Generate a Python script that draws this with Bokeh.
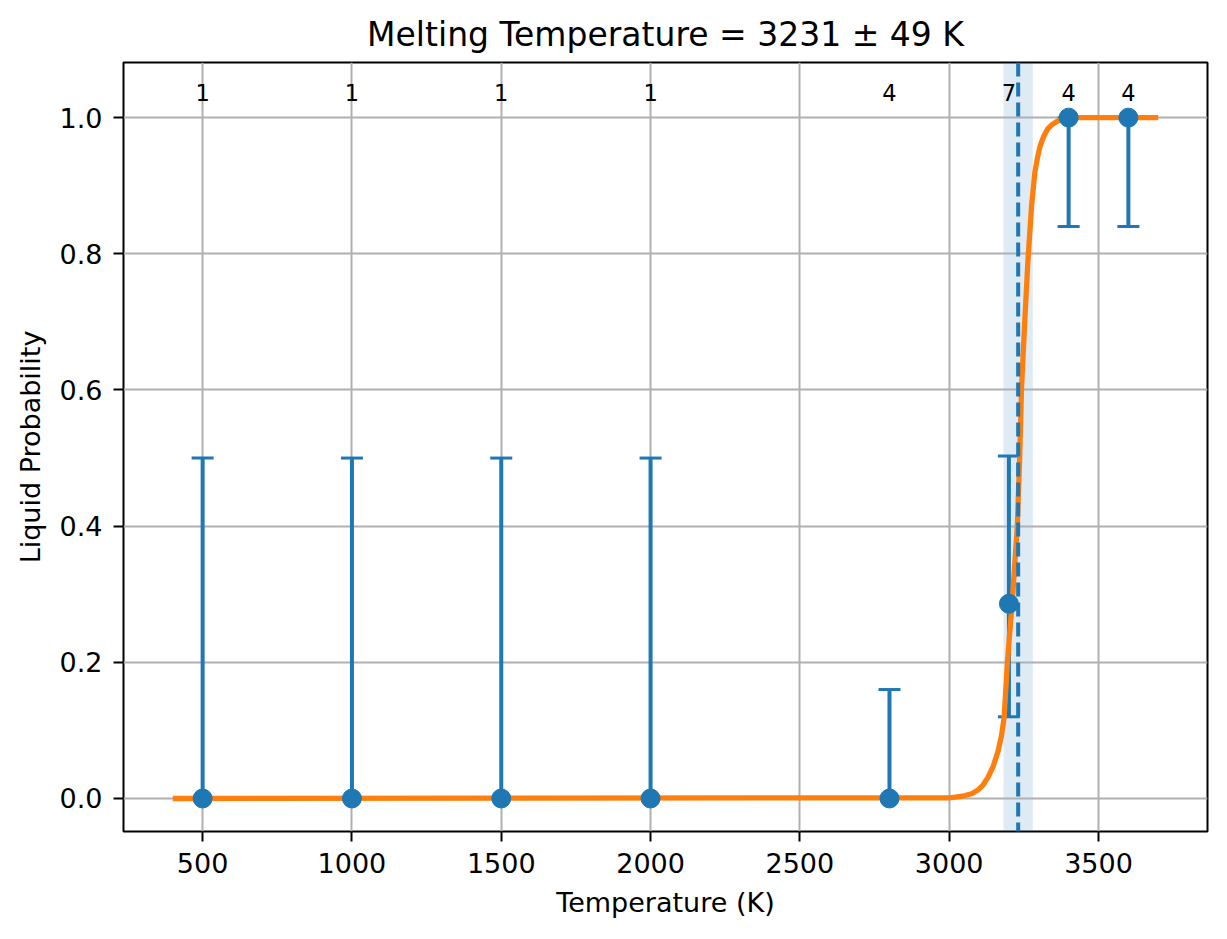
from bokeh.plotting import figure
from bokeh.models import (ColumnDataSource, Whisker, TeeHead, Span, BoxAnnotation,
                          FixedTicker, NumeralTickFormatter, Range1d)
from bokeh.core.properties import value
from bokeh.embed import file_html
from bokeh.resources import INLINE

# ---- data ----
temps = [500, 1000, 1500, 2000, 2800, 3200, 3400, 3600]
counts = [1, 1, 1, 1, 4, 7, 4, 4]
prob = [0.0, 0.0, 0.0, 0.0, 0.0, 0.286, 1.0, 1.0]
err_lo = [0.0, 0.0, 0.0, 0.0, 0.0, 0.12, 0.84, 0.84]
err_hi = [0.5, 0.5, 0.5, 0.5, 0.16, 0.503, 1.0, 1.0]

tm = 3231
tm_err = 49

curve_t = [400, 3000, 3020, 3050, 3075, 3095, 3112, 3130, 3148, 3164, 3175, 3184,
           3195, 3213, 3228, 3236, 3242, 3253, 3264, 3276, 3287, 3296, 3305, 3316,
           3329, 3345, 3363, 3385, 3700]
curve_p = [0.0, 0.001, 0.002, 0.004, 0.007, 0.012, 0.019, 0.031, 0.048, 0.070,
           0.092, 0.119, 0.2, 0.3, 0.4, 0.5, 0.6, 0.7, 0.793, 0.871, 0.920, 0.942,
           0.959, 0.972, 0.983, 0.990, 0.995, 1.0, 1.0]

x_ticks = [500, 1000, 1500, 2000, 2500, 3000, 3500]
y_ticks = [0.0, 0.2, 0.4, 0.6, 0.8, 1.0]

BLUE = "#1f77b4"
ORANGE = "#ff7f0e"
FONT = "DejaVu Sans"

p = figure(frame_width=1084, frame_height=769,
           min_border_left=123, min_border_right=12,
           min_border_top=62, min_border_bottom=92,
           x_range=Range1d(235, 3865), y_range=Range1d(-0.0485, 1.081),
           output_backend="svg", toolbar_location=None,
           title=f"Melting Temperature = {tm} \u00b1 {tm_err} K")

p.title.text_font = FONT
p.title.text_font_size = "33px"
p.title.text_font_style = "normal"
p.title.align = "center"
p.title.text_color = "black"
p.title.standoff = 17

p.outline_line_color = "black"
p.outline_line_width = 2
p.outline_line_alpha = 1.0

for ax in (p.xaxis[0], p.yaxis[0]):
    ax.axis_line_color = None
    ax.major_tick_out = 10
    ax.major_tick_in = 0
    ax.major_tick_line_width = 2
    ax.major_tick_line_color = "black"
    ax.minor_tick_line_color = None
    ax.major_label_text_font = FONT
    ax.major_label_text_font_size = "27px"
    ax.major_label_text_color = "black"
    ax.major_label_standoff = 11
    ax.axis_label_text_font = FONT
    ax.axis_label_text_font_size = "27px"
    ax.axis_label_text_font_style = "normal"
    ax.axis_label_text_color = "black"

p.xaxis.ticker = FixedTicker(ticks=x_ticks)
p.yaxis.ticker = FixedTicker(ticks=y_ticks)
p.yaxis.formatter = NumeralTickFormatter(format="0.0")
p.xaxis.axis_label = "Temperature (K)"
p.yaxis.axis_label = "Liquid Probability"
p.xaxis.axis_label_standoff = 11
p.yaxis.axis_label_standoff = 11

p.grid.grid_line_color = "#b0b0b0"
p.grid.grid_line_width = 2

band = BoxAnnotation(left=tm - tm_err, right=tm + tm_err, fill_color=BLUE,
                     fill_alpha=0.15, line_color=None, level="image")
p.add_layout(band)

src = ColumnDataSource(dict(t=temps, p=prob, lo=err_lo, hi=err_hi,
                            n=[str(c) for c in counts],
                            ty=[1.037] * len(temps)))

wh = Whisker(source=src, base="t", lower="lo", upper="hi", dimension="height",
             line_color=BLUE, line_width=4,
             upper_head=TeeHead(size=22, line_color=BLUE, line_width=3),
             lower_head=TeeHead(size=22, line_color=BLUE, line_width=3))
p.add_layout(wh)

p.line(curve_t, curve_p, line_color=ORANGE, line_width=5.3)

p.scatter("t", "p", source=src, size=19, fill_color=BLUE, line_color=BLUE)

p.text("t", "ty", text="n", source=src, text_align="center", text_baseline="middle",
       text_font=value(FONT), text_font_size="22.5px", text_color="black")

vline = Span(location=tm, dimension="height", line_color=BLUE, line_width=4,
             line_dash="14 6")
p.add_layout(vline)

open("out.html", "w").write(file_html(p, INLINE))
